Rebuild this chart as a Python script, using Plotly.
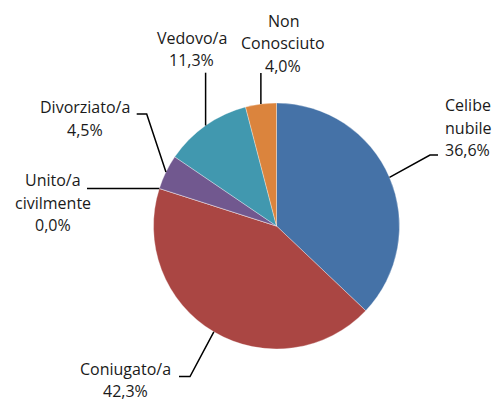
import math
import plotly.graph_objects as go

# ---- data ----
categories = ["Celibe<br>nubile", "Coniugato/a", "Unito/a<br>civilmente", "Divorziato/a", "Vedovo/a", "Non<br>Conosciuto"]
values = [36.6, 42.3, 0.0, 4.5, 11.3, 4.0]
colors = ["#4572A7", "#AA4643", "#7F7F7F", "#71588F", "#4198AF", "#DB843D"]

W, H = 494, 403
CX, CY, R = 276.5, 226.0, 123.0

# label layout (pixel coords): first line x, y and anchor; leader path after the slice anchor
label_pos = [(443.0, 105.0, "left"), (125.8, 368.5, "center"), (52.5, 180.0, "center"),
             (85.0, 107.3, "center"), (191.7, 37.7, "center"), (283.0, 20.7, "center")]
leader_paths = [
    [(430, 155), (438, 155)],
    [(190, 376.5), (179, 376.5)],
    [(87, None)],
    [(146.7, 114), (136.7, 114)],
    [(None, 72.7)],
    [(None, 73.0)],
]
LINE_H = 22.6
FONT = dict(family="Open Sans, sans-serif", size=16, color="#1a1a1a")

def px(x):
    return x / W

def py(y):
    return 1 - y / H

fig = go.Figure(go.Pie(
    labels=categories,
    values=values,
    sort=False,
    direction="clockwise",
    rotation=0,
    textinfo="none",
    hoverinfo="label+percent",
    marker=dict(colors=colors, line=dict(color="rgba(255,255,255,0.45)", width=0.7)),
    domain=dict(x=[(CX - R) / W, (CX + R) / W], y=[1 - (CY + R) / H, 1 - (CY - R) / H]),
    showlegend=False,
))

total = sum(values)
cum = 0.0
annotations = []
shapes = []
for i, (lab, v) in enumerate(zip(categories, values)):
    mid = (cum + v / 2) / total * 2 * math.pi
    cum += v
    ax = CX + R * math.sin(mid)
    ay = CY - R * math.cos(mid)
    pts = [(ax, ay)]
    for (lx, ly) in leader_paths[i]:
        pts.append((ax if lx is None else lx, ay if ly is None else ly))
    path = "M " + " L ".join(f"{px(x):.5f},{py(y):.5f}" for x, y in pts)
    shapes.append(dict(type="path", xref="paper", yref="paper", path=path,
                       line=dict(color="#000000", width=1.5)))
    lines = lab.split("<br>") + [f"{v:.1f}".replace(".", ",") + "%"]
    x0, y0, anc = label_pos[i]
    for k, t in enumerate(lines):
        annotations.append(dict(text=t, x=px(x0), y=py(y0 + k * LINE_H), xref="paper", yref="paper",
                                xanchor=anc, yanchor="middle", showarrow=False, font=FONT))

fig.update_layout(
    width=W, height=H,
    margin=dict(l=0, r=0, t=0, b=0),
    paper_bgcolor="white", plot_bgcolor="white",
    annotations=annotations, shapes=shapes,
)
fig.write_html("out.html", config={"displayModeBar": False},
               post_script="document.body.style.margin='0';document.body.style.overflow='hidden';")
